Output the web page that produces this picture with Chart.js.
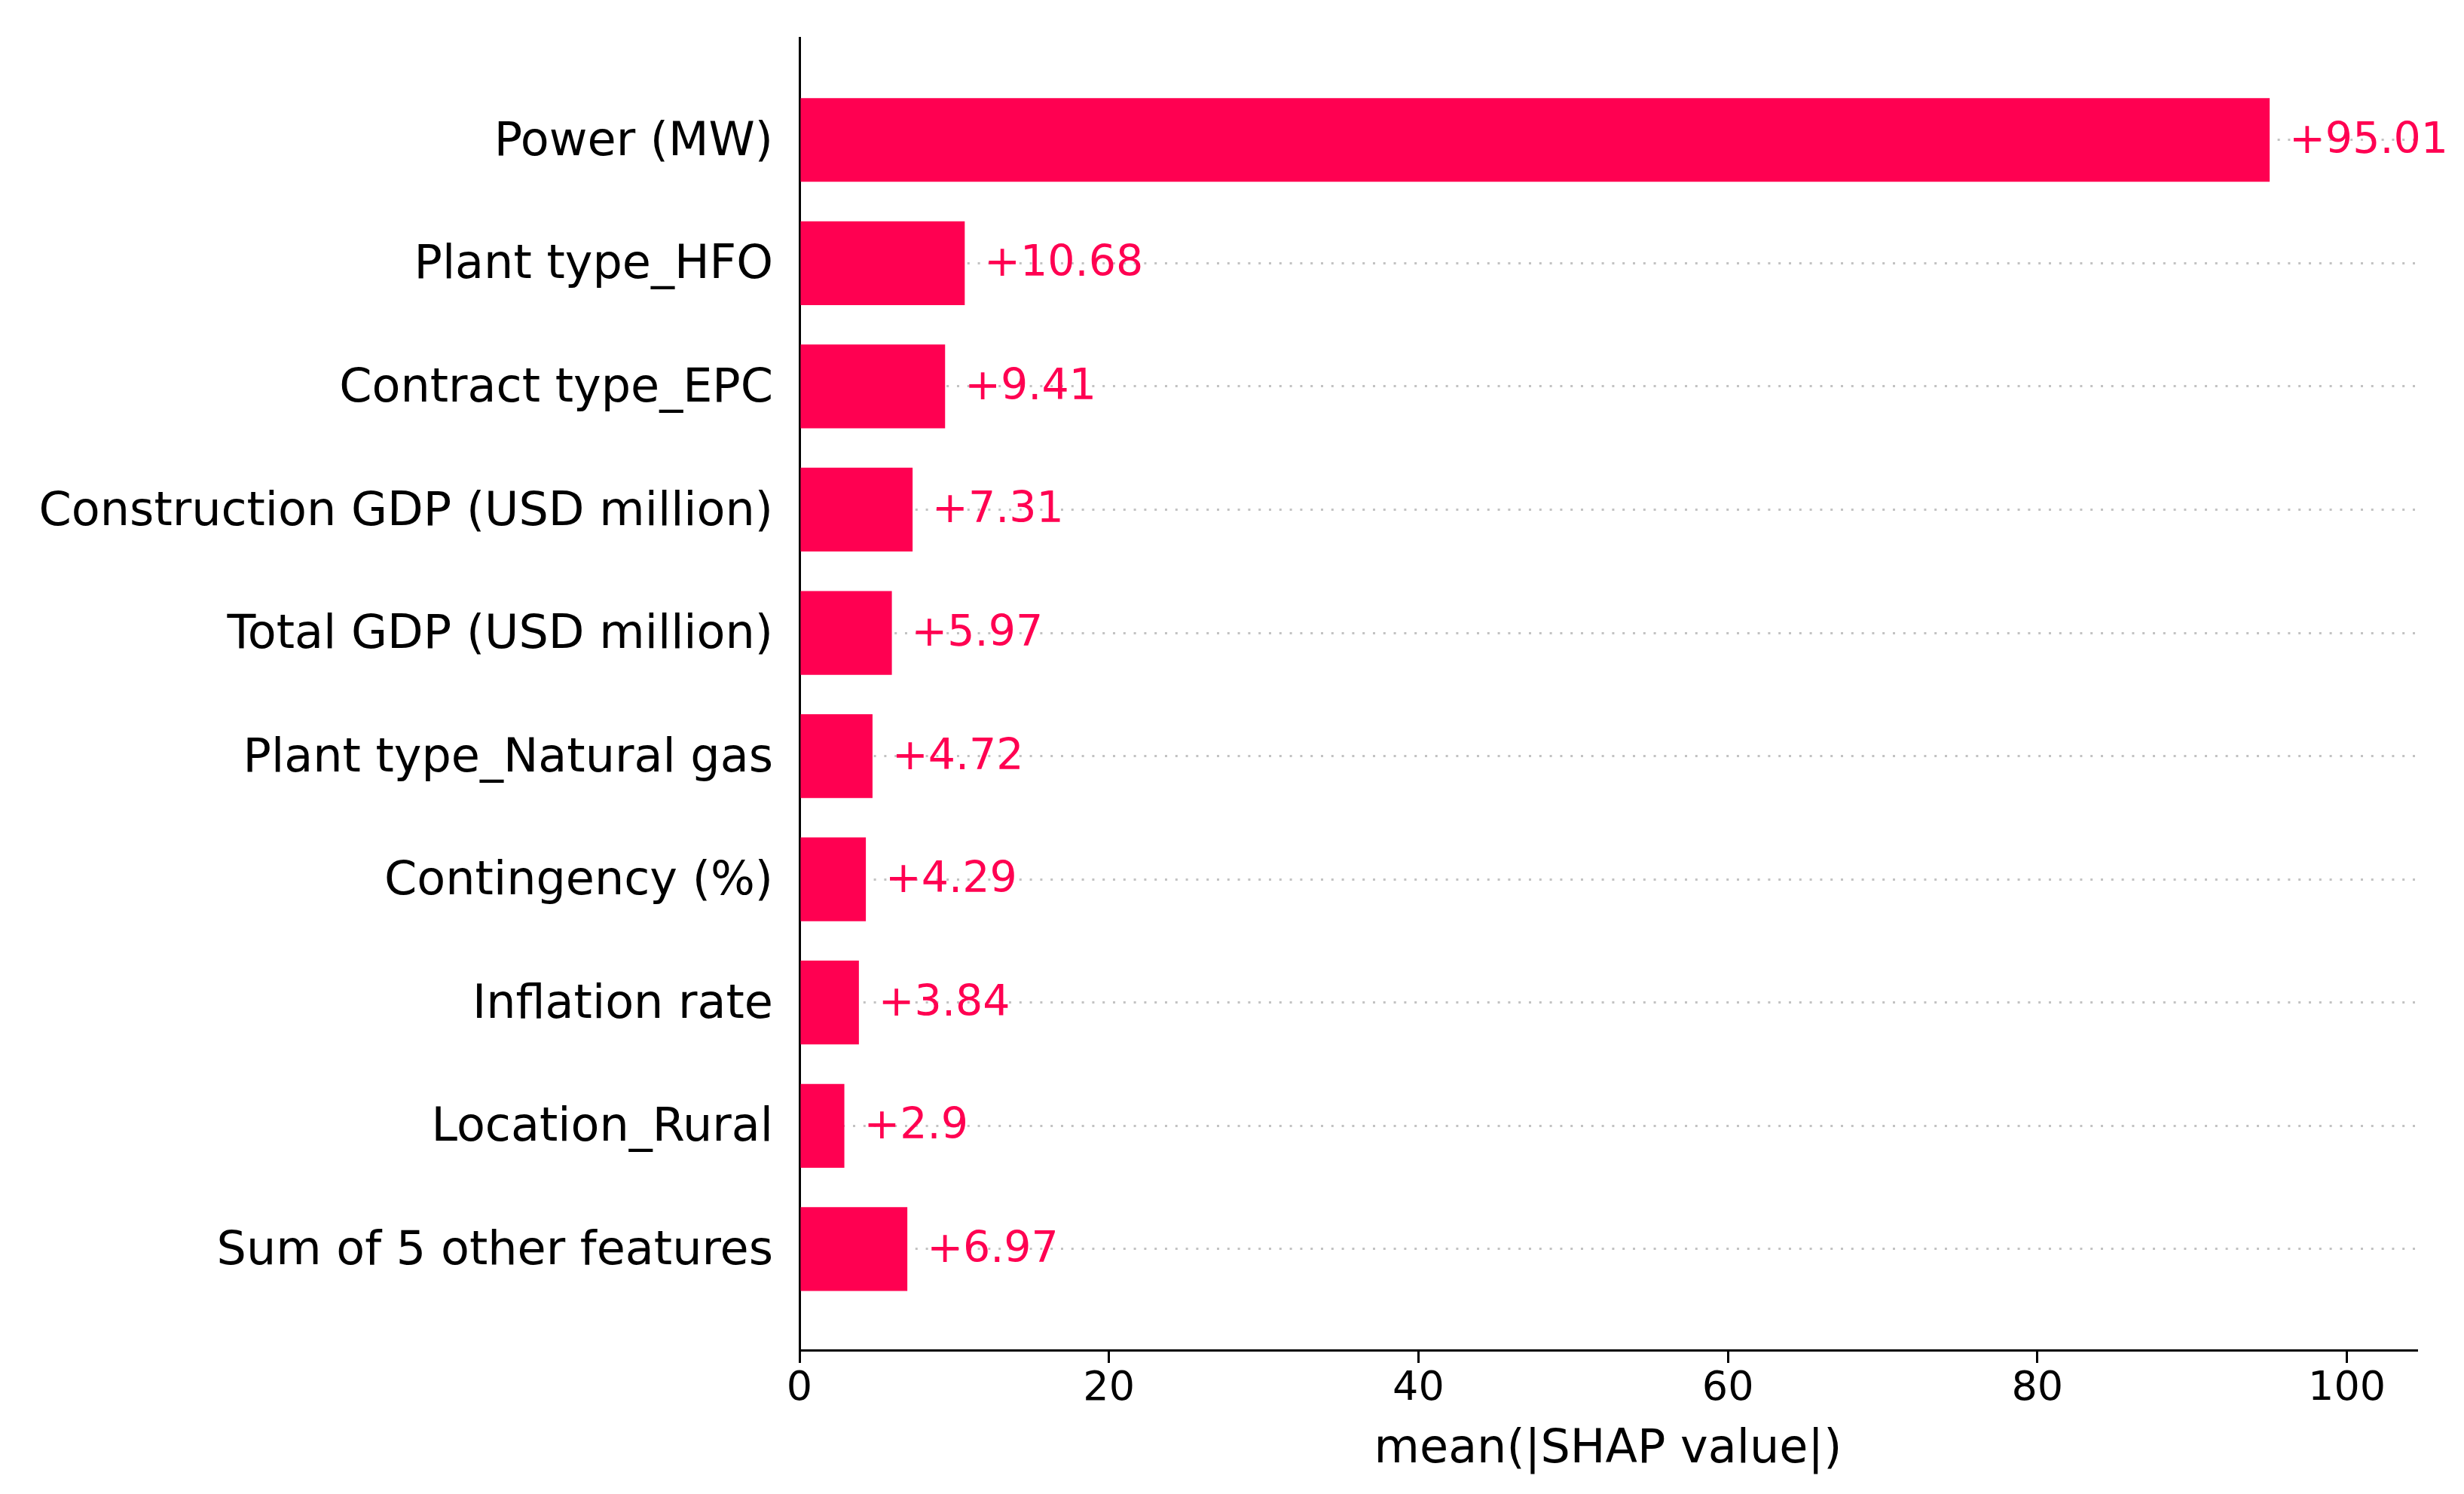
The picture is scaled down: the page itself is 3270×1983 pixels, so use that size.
<!DOCTYPE html>
<html>
<head>
<meta charset="utf-8">
<script src="https://cdn.jsdelivr.net/npm/chart.js@4.4.1/dist/chart.umd.min.js"></script>
<style>
  html, body { margin: 0; padding: 0; background: #fff; }
  canvas { display: block; }
</style>
</head>
<body>
<canvas id="shapBar" width="3270" height="1983"></canvas>
<script>
const features = ['Power (MW)', 'Plant type_HFO', 'Contract type_EPC', 'Construction GDP (USD million)',
    'Total GDP (USD million)', 'Plant type_Natural gas', 'Contingency (%)', 'Inflation rate',
    'Location_Rural', 'Sum of 5 other features'];
const meanShap = [95.01, 10.68, 9.41, 7.31, 5.97, 4.72, 4.29, 3.84, 2.9, 6.97];
const xTicks = [0, 20, 40, 60, 80, 100];
const xTitle = 'mean(|SHAP value|)';

const shapRed = '#ff0051';
const FONT = 'DejaVu Sans';

// "+value" text right of each bar
const valueLabels = {
    id: 'valueLabels',
    afterDatasetsDraw(chart) {
        const ctx = chart.ctx;
        const meta = chart.getDatasetMeta(0);
        ctx.save();
        ctx.font = `57px "${FONT}"`;
        ctx.fillStyle = shapRed;
        ctx.textAlign = 'left';
        ctx.textBaseline = 'alphabetic';
        meta.data.forEach((bar, i) => {
            ctx.fillText('+' + meanShap[i], bar.x + 26, bar.y + 17);
        });
        ctx.restore();
    }
};

new Chart(document.getElementById('shapBar'), {
    type: 'bar',
    data: {
        datasets: [{
            data: meanShap.map((v, i) => ({ x: v, y: i })),
            backgroundColor: shapRed,
            borderWidth: 0,
            barPercentage: 0.68,
            categoryPercentage: 1
        }]
    },
    options: {
        indexAxis: 'y',
        responsive: false,
        devicePixelRatio: 1,
        animation: false,
        layout: { padding: { top: 50, right: 63, left: 0, bottom: 0 } },
        plugins: { legend: { display: false }, tooltip: { enabled: false } },
        scales: {
            x: {
                type: 'linear',
                min: 0,
                max: 104.5,
                afterFit: (axis) => {
                    axis.height = 191;
                    axis.paddingLeft = 0;
                    axis.paddingRight = 0;
                },
                afterBuildTicks: (axis) => { axis.ticks = xTicks.map(v => ({ value: v })); },
                grid: { drawOnChartArea: false, drawTicks: true, tickLength: 17, color: '#000', lineWidth: 3 },
                border: { display: true, color: '#000', width: 3 },
                ticks: { font: { family: FONT, size: 54 }, color: '#000', padding: 3 },
                title: {
                    display: true,
                    text: xTitle,
                    font: { family: FONT, size: 62 },
                    color: '#000',
                    padding: { top: 0, bottom: 21 }
                }
            },
            y: {
                type: 'linear',
                min: -0.83,
                max: 9.82,
                reverse: true,
                offset: false,
                afterFit: (axis) => {
                    axis.width = 1061;
                    axis.paddingTop = 0;
                    axis.paddingBottom = 0;
                },
                afterBuildTicks: (axis) => { axis.ticks = features.map((_, i) => ({ value: i })); },
                grid: { offset: false, drawTicks: false, color: '#c2c2c2', lineWidth: 3 },
                border: { display: true, color: '#000', width: 3, dash: [3, 10.8] },
                ticks: {
                    font: { family: FONT, size: 62 },
                    color: '#000',
                    padding: 35,
                    labelOffset: 4,
                    autoSkip: false,
                    callback: (v) => features[v]
                }
            }
        }
    },
    plugins: [valueLabels]
});
</script>
</body>
</html>
